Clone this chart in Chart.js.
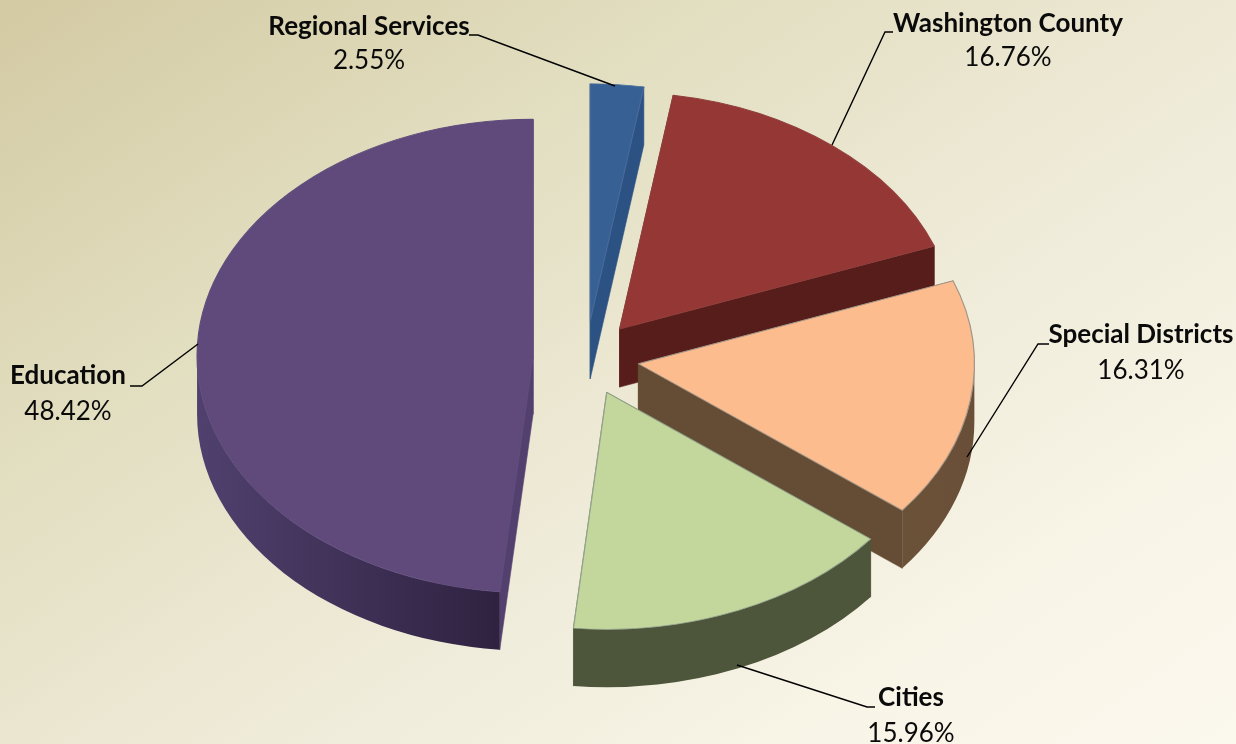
<!DOCTYPE html>
<html>
<head>
<meta charset="utf-8">
<style>
html,body{margin:0;padding:0;width:1236px;height:744px;overflow:hidden;
background:linear-gradient(146deg,#d3caa3 0%,#e2dec0 30%,#efebd9 58%,#f8f4e6 80%,#fbf8ee 100%);}
canvas{display:block;}
</style>
<script src="https://cdn.jsdelivr.net/npm/chart.js@4/dist/chart.umd.min.js"></script>
</head>
<body>
<canvas id="c" width="1236" height="744"></canvas>
<script>
const categories = ['Regional Services','Washington County','Special Districts','Cities','Education'];
const shares = [2.55,16.76,16.31,15.96,48.42];
const valueLabels = ['2.55%','16.76%','16.31%','15.96%','48.42%'];
const topColors = ['#376094','#953735','#fcbc8e','#c3d69b','#604a7b'];
const edgeColors = ['#46699a','#8f3e3c','#a09488','#93a38c','#5f4c7c'];
const cutColors = ['#2b5283','#571d1b','#654d35','#4d553b','#54406f'];
const wallStart = ['#2b5283','#571d1b','#6a4f38','#4d553b','#2f2240'];
const wallEnd = ['#2b5283','#571d1b','#6a5238','#4d553b','#50406e'];

const pieCentre = {x:586,y:358};
const pieRadius = 336;
const tilt = 0.705;
const depth = 58;
const explode = 53;

const labelSpots = [
  {x:369,y:27,vy:61},{x:1008,y:24,vy:58},{x:1141,y:335,vy:371},{x:911,y:698,vy:734},{x:68,y:376,vy:412}
];
const leaders = [
  [[469,35],[478,35],[615,86]],
  [[893,32],[885,32],[832,145]],
  [[1049,344],[1038,344],[967,457]],
  [[875,707],[867,707],[737,665]],
  [[130,386],[142,386],[198,344]]
];

const pie3d = {
  id:'pie3d',
  beforeDatasetDraw(chart,args){
    const ctx = chart.ctx;
    const arcs = args.meta.data;
    arcs.forEach((arc,i)=>{
      const a0 = arc.startAngle, a1 = arc.endAngle, mid = (a0+a1)/2;
      const X = pieCentre.x + Math.cos(mid)*explode;
      const Y = pieCentre.y + Math.sin(mid)*explode*tilt;
      const pt = a=>[X+Math.cos(a)*pieRadius, Y+Math.sin(a)*pieRadius*tilt];
      // radial cut faces, farther one first
      const faces = [a0,a1].map(a=>pt(a)).sort((p,q)=>p[1]-q[1]);
      faces.forEach(p=>{
        ctx.beginPath();
        ctx.moveTo(X,Y);ctx.lineTo(p[0],p[1]);ctx.lineTo(p[0],p[1]+depth);ctx.lineTo(X,Y+depth);ctx.closePath();
        ctx.fillStyle = cutColors[i];ctx.fill();
        ctx.strokeStyle = cutColors[i];ctx.lineWidth=0.6;ctx.stroke();
      });
      // outer wall: the part of the rim that faces the viewer
      let s = Math.max(a0,0), e = Math.min(a1,Math.PI);
      if (s<e){
        const ps=pt(s), pe=pt(e);
        const g = ctx.createLinearGradient(ps[0],0,pe[0],0);
        g.addColorStop(0,wallStart[i]);g.addColorStop(1,wallEnd[i]);
        ctx.beginPath();
        ctx.ellipse(X,Y,pieRadius,pieRadius*tilt,0,s,e,false);
        ctx.lineTo(pe[0],pe[1]+depth);
        ctx.ellipse(X,Y+depth,pieRadius,pieRadius*tilt,0,e,s,true);
        ctx.closePath();
        ctx.fillStyle=g;ctx.fill();
      }
      // top surface: the library's own arc element
      ctx.save();
      ctx.translate(X,Y);
      ctx.scale(1,tilt);
      ctx.translate(-arc.x,-arc.y);
      arc.draw(ctx);
      ctx.restore();
    });
    return false;
  },
  afterDraw(chart){
    const ctx = chart.ctx;
    ctx.save();
    ctx.strokeStyle='#000';ctx.lineWidth=1.4;
    leaders.forEach(l=>{
      ctx.beginPath();
      l.forEach((p,k)=>k?ctx.lineTo(p[0],p[1]):ctx.moveTo(p[0],p[1]));
      ctx.stroke();
    });
    ctx.fillStyle='#0a0a0a';ctx.textAlign='center';ctx.textBaseline='middle';
    categories.forEach((c,i)=>{
      const s=labelSpots[i];
      ctx.font='bold 26px Lato';
      ctx.fillText(c,s.x,s.y);
      ctx.font='26px Lato';
      ctx.fillText(valueLabels[i],s.x,s.vy);
    });
    ctx.restore();
  }
};

new Chart(document.getElementById('c'),{
  type:'pie',
  data:{labels:categories,datasets:[{data:shares,backgroundColor:topColors,borderColor:edgeColors,borderWidth:1.2}]},
  options:{
    responsive:false,animation:false,radius:pieRadius,
    layout:{padding:0},
    plugins:{legend:{display:false},tooltip:{enabled:false},title:{display:false}}
  },
  plugins:[pie3d]
});
</script>
</body>
</html>
